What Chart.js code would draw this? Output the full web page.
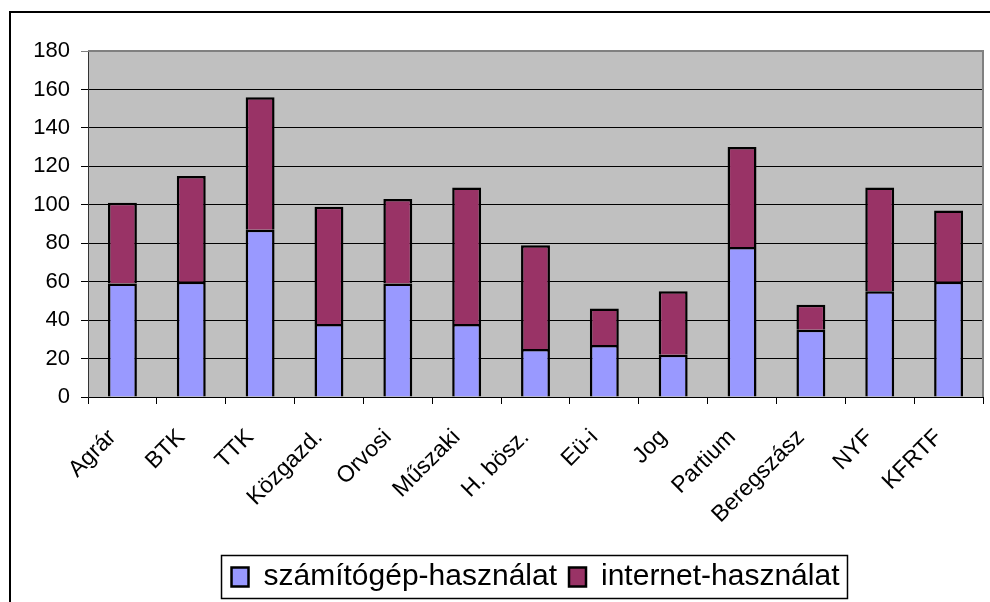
<!DOCTYPE html>
<html>
<head>
<meta charset="utf-8">
<script src="https://cdn.jsdelivr.net/npm/chart.js@4/dist/chart.umd.min.js"></script>
<style>
  html, body { margin: 0; padding: 0; background: #fff; }
  #wrap { position: relative; width: 990px; height: 602px; }
</style>
</head>
<body>
<div id="wrap"><canvas id="chart" width="990" height="602"></canvas></div>
<script>
// Karok / intézmények
const categories = ['Agrár', 'BTK', 'TTK', 'Közgazd.', 'Orvosi', 'Műszaki', 'H. bösz.',
                    'Eü-i', 'Jog', 'Partium', 'Beregszász', 'NYF', 'KFRTF'];
// számítógép-használat (alsó rész)
const computerUse = [59, 60, 87, 38, 59, 38, 25, 27, 22, 78, 35, 55, 60];
// internet-használat (felső rész)
const internetUse = [42, 55, 69, 61, 44, 71, 54, 19, 33, 52, 13, 54, 37];
const yTicks = { min: 0, max: 180, step: 20 };

const FONT = 'Liberation Sans, Arial, Helvetica, sans-serif';

// háttér, keret, jelmagyarázat doboz
const decor = {
    id: 'decor',
    beforeDraw(chart) {
        const { ctx, chartArea: a } = chart;
        ctx.save();
        ctx.fillStyle = '#c0c0c0';
        ctx.fillRect(a.left, a.top, a.right - a.left, a.bottom - a.top);
        ctx.strokeStyle = '#000';
        ctx.lineWidth = 2;
        ctx.beginPath();
        ctx.moveTo(10, chart.height);
        ctx.lineTo(10, 12);
        ctx.lineTo(chart.width, 12);
        ctx.stroke();
        ctx.restore();
    },
    afterDatasetsDraw(chart) {
        const { ctx, chartArea: a } = chart;
        ctx.save();
        ctx.strokeStyle = '#808080';
        ctx.lineWidth = 2;
        ctx.beginPath();
        ctx.moveTo(a.left, a.top);
        ctx.lineTo(a.right, a.top);
        ctx.lineTo(a.right, a.bottom);
        ctx.stroke();
        ctx.restore();
    },
    afterDraw(chart) {
        const boxes = chart.legend.legendHitBoxes;
        if (!boxes || !boxes.length) return;
        const { ctx } = chart;
        const left = Math.min(...boxes.map(b => b.left)) - 10;
        const right = Math.max(...boxes.map(b => b.left + b.width)) + 8;
        const mid = boxes[0].top + boxes[0].height / 2;
        ctx.save();
        ctx.strokeStyle = '#000';
        ctx.lineWidth = 1.5;
        ctx.strokeRect(left, mid - 21.5, right - left, 43);
        ctx.restore();
    }
};

new Chart(document.getElementById('chart'), {
    type: 'bar',
    data: {
        labels: categories,
        datasets: [{
            label: 'számítógép-használat',
            data: computerUse,
            backgroundColor: '#9999ff',
            borderColor: '#000',
            borderWidth: 2.5,
            categoryPercentage: 1,
            barPercentage: 0.42
        }, {
            label: 'internet-használat',
            data: internetUse,
            backgroundColor: '#993366',
            borderColor: '#000',
            borderWidth: 2.5,
            categoryPercentage: 1,
            barPercentage: 0.42
        }]
    },
    options: {
        responsive: false,
        animation: false,
        layout: {
            padding: { top: 51, right: 7, left: 0, bottom: 0 }
        },
        scales: {
            x: {
                stacked: true,
                grid: {
                    drawOnChartArea: false,
                    tickLength: 7,
                    color: '#000'
                },
                border: { color: '#000', width: 1 },
                ticks: {
                    minRotation: 45,
                    maxRotation: 45,
                    autoSkip: false,
                    color: '#000',
                    padding: 20,
                    labelOffset: -10,
                    font: { family: FONT, size: 23 }
                },
                afterFit(scale) { scale.height = 153; }
            },
            y: {
                stacked: true,
                min: yTicks.min,
                max: yTicks.max,
                grid: {
                    color: ctx => ctx.tick && ctx.tick.value === yTicks.max ? '#808080' : '#000',
                    lineWidth: 1,
                    tickLength: 7
                },
                border: { color: '#333', width: 1 },
                ticks: {
                    stepSize: yTicks.step,
                    color: '#000',
                    padding: 11,
                    font: { family: FONT, size: 22 }
                },
                afterFit(scale) { scale.width = 88; }
            }
        },
        plugins: {
            legend: {
                position: 'bottom',
                fullSize: false,
                labels: {
                    color: '#000',
                    boxWidth: 17,
                    boxHeight: 19,
                    padding: 12,
                    font: { family: FONT, size: 30 }
                }
            },
            tooltip: { enabled: false }
        }
    },
    plugins: [decor]
});
</script>
</body>
</html>
